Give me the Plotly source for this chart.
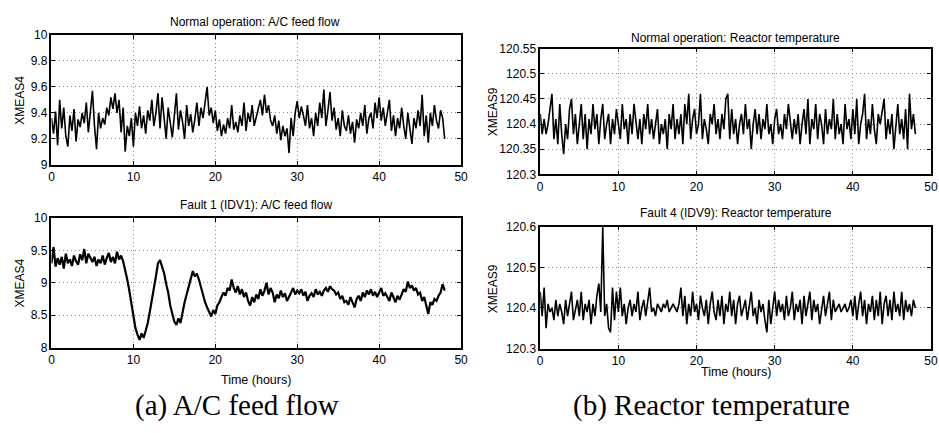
import plotly.graph_objects as go

# Sampling step (hours) of the series
T_STEP = 0.25

# Normal operation: A/C feed flow (XMEAS4)
feed_normal = [
    9.36, 9.24, 9.41, 9.15, 9.50, 9.28, 9.44, 9.22,
    9.14, 9.38, 9.26, 9.43, 9.18, 9.35, 9.29, 9.40,
    9.32, 9.48, 9.25, 9.42, 9.57, 9.30, 9.12, 9.40,
    9.28, 9.36, 9.31, 9.44, 9.38, 9.52, 9.43, 9.55,
    9.40, 9.50, 9.25, 9.44, 9.10, 9.30, 9.22, 9.36,
    9.14, 9.40, 9.30, 9.45, 9.28, 9.38, 9.24, 9.42,
    9.34, 9.50, 9.30, 9.40, 9.55, 9.28, 9.52, 9.36,
    9.20, 9.44, 9.31, 9.21, 9.38, 9.55, 9.27, 9.42,
    9.33, 9.20, 9.46, 9.30, 9.39, 9.25, 9.35, 9.48,
    9.30, 9.44, 9.36, 9.50, 9.60, 9.38, 9.44, 9.32,
    9.42, 9.26, 9.35, 9.22, 9.31, 9.24, 9.36, 9.28,
    9.46, 9.27, 9.33, 9.25, 9.38, 9.30, 9.48, 9.26,
    9.40, 9.33, 9.46, 9.30, 9.36, 9.42, 9.50, 9.38,
    9.54, 9.40, 9.46, 9.34, 9.30, 9.38, 9.24, 9.34,
    9.19, 9.30, 9.22, 9.28, 9.09, 9.36, 9.22, 9.40,
    9.49, 9.36, 9.45, 9.38, 9.30, 9.46, 9.28, 9.36,
    9.22, 9.40, 9.30, 9.48, 9.36, 9.58, 9.30, 9.42,
    9.56, 9.34, 9.44, 9.27, 9.36, 9.22, 9.42, 9.30,
    9.26, 9.38, 9.24, 9.33, 9.17, 9.35, 9.28, 9.40,
    9.30, 9.46, 9.24, 9.36, 9.40, 9.28, 9.48, 9.36,
    9.52, 9.34, 9.44, 9.30, 9.40, 9.50, 9.26, 9.38,
    9.22, 9.36, 9.28, 9.44, 9.30, 9.20, 9.40, 9.26,
    9.16, 9.36, 9.28, 9.42, 9.30, 9.54, 9.22, 9.38,
    9.17, 9.40, 9.30, 9.46, 9.34, 9.28, 9.42, 9.36,
    9.20,
]

# Fault 1 (IDV1): A/C feed flow (XMEAS4)
feed_fault1 = [
    9.30, 9.55, 9.25, 9.38, 9.28, 9.40, 9.22, 9.45,
    9.30, 9.36, 9.26, 9.42, 9.33, 9.28, 9.44, 9.35,
    9.52, 9.30, 9.45, 9.38, 9.32, 9.40, 9.26, 9.36,
    9.30, 9.42, 9.28, 9.38, 9.46, 9.32, 9.40, 9.30,
    9.48, 9.36, 9.42, 9.33, 9.20, 9.05, 8.88, 8.70,
    8.52, 8.30, 8.20, 8.12, 8.22, 8.15, 8.26, 8.38,
    8.55, 8.72, 8.92, 9.10, 9.30, 9.35, 9.25, 9.15,
    8.98, 8.85, 8.65, 8.52, 8.40, 8.35, 8.45, 8.38,
    8.55, 8.70, 8.82, 8.95, 9.05, 9.18, 9.10, 9.14,
    9.05, 8.92, 8.80, 8.70, 8.62, 8.55, 8.48, 8.58,
    8.52, 8.65, 8.70, 8.78, 8.85, 8.80, 8.92, 8.88,
    9.05, 8.92, 8.85, 8.95, 8.82, 8.90, 8.78, 8.85,
    8.72, 8.65, 8.78, 8.70, 8.82, 8.75, 8.90, 8.80,
    8.88, 9.00, 8.82, 8.92, 8.85, 8.70, 8.82, 8.76,
    8.88, 8.78, 8.84, 8.72, 8.80, 8.85, 8.92, 8.82,
    8.88, 8.84, 8.90, 8.80, 8.86, 8.72, 8.80, 8.84,
    8.78, 8.90, 8.82, 8.86, 8.80, 8.88, 8.92, 8.86,
    8.95, 8.90, 8.88, 8.82, 8.85, 8.75, 8.80, 8.70,
    8.72, 8.66, 8.78, 8.70, 8.62, 8.75, 8.80, 8.72,
    8.85, 8.78, 8.88, 8.82, 8.90, 8.80, 8.86, 8.78,
    8.85, 8.92, 8.80, 8.84, 8.78, 8.72, 8.85, 8.76,
    8.70, 8.80, 8.74, 8.82, 8.90, 8.86, 9.02, 8.92,
    8.96, 8.88, 8.92, 8.82, 8.85, 8.72, 8.78, 8.65,
    8.52, 8.70, 8.66, 8.75, 8.72, 8.80, 8.85, 8.98,
    8.88,
]

# Normal operation: Reactor temperature (XMEAS9)
temp_normal = [
    120.42, 120.38, 120.41, 120.38, 120.40, 120.43, 120.46, 120.37,
    120.41, 120.36, 120.44, 120.38, 120.34, 120.40, 120.37, 120.43,
    120.45, 120.38, 120.42, 120.36, 120.40, 120.44, 120.37, 120.42,
    120.35, 120.41, 120.38, 120.44, 120.39, 120.42, 120.36, 120.41,
    120.44, 120.37, 120.40, 120.42, 120.36, 120.41, 120.38, 120.43,
    120.40, 120.37, 120.44, 120.39, 120.41, 120.36, 120.42, 120.38,
    120.44, 120.40, 120.37, 120.41, 120.36, 120.42, 120.39, 120.44,
    120.38, 120.41, 120.37, 120.40, 120.43, 120.36, 120.40, 120.38,
    120.41, 120.35, 120.42, 120.39, 120.44, 120.37, 120.41, 120.38,
    120.42, 120.36, 120.44, 120.40, 120.46, 120.37, 120.41, 120.43,
    120.38, 120.40, 120.46, 120.37, 120.41, 120.39, 120.36, 120.42,
    120.40, 120.44, 120.38, 120.41, 120.37, 120.42, 120.39, 120.45,
    120.46, 120.37, 120.43, 120.38, 120.41, 120.36, 120.40, 120.42,
    120.38, 120.44, 120.39, 120.41, 120.35, 120.40, 120.43, 120.38,
    120.42, 120.37, 120.41, 120.39, 120.44, 120.38, 120.40, 120.36,
    120.41, 120.43, 120.38, 120.40, 120.37, 120.42, 120.39, 120.44,
    120.40, 120.37, 120.41, 120.38, 120.42, 120.36, 120.40, 120.43,
    120.38, 120.45, 120.36, 120.41, 120.39, 120.44, 120.37, 120.42,
    120.40, 120.36, 120.43, 120.38, 120.41, 120.39, 120.45, 120.37,
    120.42, 120.38, 120.40, 120.36, 120.44, 120.39, 120.41, 120.37,
    120.43, 120.38, 120.45, 120.36, 120.40, 120.42, 120.46, 120.37,
    120.41, 120.38, 120.44, 120.39, 120.36, 120.42, 120.40, 120.43,
    120.45, 120.37, 120.41, 120.38, 120.42, 120.35, 120.40, 120.44,
    120.38, 120.41, 120.37, 120.43, 120.35, 120.46, 120.39, 120.42,
    120.38,
]

# Fault 4 (IDV9): Reactor temperature (XMEAS9)
temp_fault4 = [
    120.44, 120.38, 120.45, 120.35, 120.41, 120.39, 120.40, 120.37,
    120.42, 120.38, 120.41, 120.39, 120.36, 120.42, 120.38, 120.41,
    120.44, 120.37, 120.40, 120.42, 120.38, 120.44, 120.37, 120.41,
    120.39, 120.42, 120.36, 120.41, 120.38, 120.43, 120.46, 120.39,
    120.60, 120.38, 120.41, 120.35, 120.34, 120.45, 120.37, 120.44,
    120.39, 120.45, 120.38, 120.41, 120.36, 120.40, 120.42, 120.38,
    120.41, 120.39, 120.44, 120.37, 120.40, 120.42, 120.38, 120.41,
    120.45, 120.39, 120.40, 120.38, 120.41, 120.40, 120.39, 120.41,
    120.40, 120.42, 120.39, 120.40, 120.41, 120.40, 120.39, 120.41,
    120.45, 120.38, 120.43, 120.36, 120.41, 120.38, 120.44, 120.39,
    120.41, 120.37, 120.43, 120.40, 120.38, 120.42, 120.36, 120.41,
    120.44, 120.39, 120.37, 120.42, 120.38, 120.43, 120.36, 120.41,
    120.39, 120.44, 120.38, 120.42, 120.36, 120.41, 120.43, 120.38,
    120.40, 120.42, 120.37, 120.41, 120.44, 120.38, 120.40, 120.36,
    120.42, 120.39, 120.41, 120.37, 120.34, 120.42, 120.36, 120.40,
    120.44, 120.38, 120.42, 120.39, 120.41, 120.37, 120.43, 120.38,
    120.40, 120.44, 120.37, 120.41, 120.39, 120.42, 120.36, 120.43,
    120.38, 120.41, 120.44, 120.37, 120.42, 120.39, 120.41, 120.36,
    120.40, 120.43, 120.38, 120.41, 120.44, 120.37, 120.42, 120.39,
    120.40, 120.41, 120.39, 120.40, 120.41, 120.39, 120.40, 120.42,
    120.38, 120.43, 120.37, 120.41, 120.44, 120.38, 120.42, 120.36,
    120.41, 120.39, 120.43, 120.37, 120.42, 120.38, 120.44, 120.36,
    120.41, 120.43, 120.38, 120.42, 120.37, 120.44, 120.39, 120.41,
    120.38, 120.44, 120.37, 120.42, 120.39, 120.41, 120.38, 120.42,
    120.40,
]

# Tick values / labels
x_ticks = [0, 10, 20, 30, 40, 50]
y1_ticks = [9, 9.2, 9.4, 9.6, 9.8, 10]
y1_text = ["9", "9.2", "9.4", "9.6", "9.8", "10"]
y2_ticks = [8, 8.5, 9, 9.5, 10]
y2_text = ["8", "8.5", "9", "9.5", "10"]
y3_ticks = [120.3, 120.35, 120.4, 120.45, 120.5, 120.55]
y3_text = ["120.3", "120.35", "120.4", "120.45", "120.5", "120.55"]
y4_ticks = [120.3, 120.4, 120.5, 120.6]
y4_text = ["120.3", "120.4", "120.5", "120.6"]

titles = [
    "Normal operation: A/C feed flow",
    "Fault 1 (IDV1): A/C feed flow",
    "Normal operation: Reactor temperature",
    "Fault 4 (IDV9): Reactor temperature",
]
captions = ["(a) A/C feed flow", "(b) Reactor temperature"]


def times(vals):
    return [i * T_STEP for i in range(len(vals))]


W, H = 939, 433


def px_x(p):
    return p / W


def px_y(p):
    return 1 - p / H


FONT = "Liberation Sans, Arial, Helvetica, sans-serif"

fig = go.Figure()
series = [feed_normal, feed_fault1, temp_normal, temp_fault4]
widths = [1.6, 2.2, 1.6, 1.6]
for k, vals in enumerate(series):
    sfx = "" if k == 0 else str(k + 1)
    fig.add_trace(go.Scatter(
        x=times(vals), y=vals, mode="lines",
        line=dict(color="black", width=widths[k]),
        xaxis="x" + sfx, yaxis="y" + sfx, showlegend=False,
        hoverinfo="skip",
    ))

common = dict(
    showline=True, linecolor="black", linewidth=1.5, mirror="ticks",
    ticks="inside", ticklen=4, tickcolor="black", tickwidth=1,
    showgrid=True, gridcolor="#8c8c8c", griddash="1px,3px", gridwidth=1,
    zeroline=False, tickfont=dict(family=FONT, size=12, color="black"),
    ticklabeloverflow="allow",
)

# panel pixel boxes: (left, right, top, bottom)
boxes = [
    (49, 463, 29, 163),
    (49, 463, 218, 352),
    (543, 938, 43, 173),
    (543, 938, 227, 353),
]
yranges = [[9, 10], [8, 10], [120.3, 120.55], [120.3, 120.6]]
yticks = [(y1_ticks, y1_text), (y2_ticks, y2_text), (y3_ticks, y3_text), (y4_ticks, y4_text)]

layout = dict(
    width=W, height=H, margin=dict(l=0, r=0, t=0, b=0),
    paper_bgcolor="white", plot_bgcolor="white",
    annotations=[],
)
for k, (l, r, t, b) in enumerate(boxes):
    sfx = "" if k == 0 else str(k + 1)
    layout["xaxis" + sfx] = dict(
        common, domain=[px_x(l), px_x(r)], anchor="y" + sfx,
        range=[0, 50], tickvals=x_ticks, ticktext=[str(v) for v in x_ticks],
    )
    layout["yaxis" + sfx] = dict(
        common, domain=[px_y(b), px_y(t)], anchor="x" + sfx,
        range=yranges[k], tickvals=yticks[k][0], ticktext=yticks[k][1],
    )

ann = layout["annotations"]
title_pos = [(255, 15), (256, 205), (740, 32), (741, 213)]
for txt, (cx, cy) in zip(titles, title_pos):
    ann.append(dict(text=txt, x=px_x(cx), y=px_y(cy), xref="paper", yref="paper",
                    xanchor="center", yanchor="middle", showarrow=False,
                    font=dict(family=FONT, size=12, color="black")))

ylab_pos = [("XMEAS4", 17, 96), ("XMEAS4", 17, 285), ("XMEAS9", 495, 108), ("XMEAS9", 495, 291)]
for txt, cx, cy in ylab_pos:
    ann.append(dict(text=txt, x=px_x(cx), y=px_y(cy), xref="paper", yref="paper",
                    xanchor="center", yanchor="middle", showarrow=False, textangle=-90,
                    font=dict(family=FONT, size=12, color="black")))

for cx, cy in [(256, 385), (741, 377)]:
    ann.append(dict(text="Time (hours)", x=px_x(cx), y=px_y(cy), xref="paper", yref="paper",
                    xanchor="center", yanchor="middle", showarrow=False,
                    font=dict(family=FONT, size=12.5, color="black")))

for txt, cx in zip(captions, [237, 716]):
    ann.append(dict(text=txt, x=px_x(cx), y=px_y(412), xref="paper", yref="paper",
                    xanchor="center", yanchor="middle", showarrow=False,
                    font=dict(family="Liberation Serif, DejaVu Serif, serif", size=29, color="black")))

fig.update_layout(**layout)
fig.write_html("out.html")
